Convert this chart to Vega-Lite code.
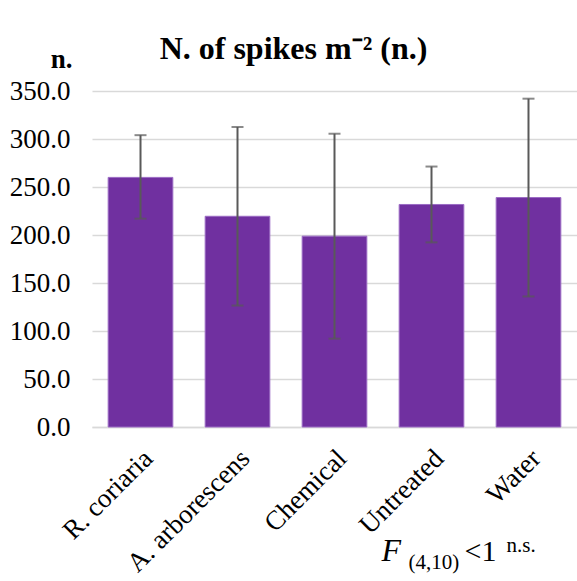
{
  "$schema": "https://vega.github.io/schema/vega-lite/v6.json",
  "width": 485,
  "height": 336,
  "autosize": "none",
  "padding": {"left": 92, "top": 91, "right": 0, "bottom": 154},
  "background": "white",
  "config": {
    "view": {"stroke": null},
    "font": "Liberation Serif",
    "axis": {"labelFont": "Liberation Serif", "titleFont": "Liberation Serif", "labelColor": "#000000", "titleColor": "#000000"}
  },
  "title": {
    "text": "N. of spikes m⁻² (n.)",
    "font": "Liberation Serif",
    "fontSize": 32,
    "fontWeight": "bold",
    "color": "#000000",
    "anchor": "middle",
    "frame": "group",
    "dx": -41,
    "baseline": "alphabetic",
    "offset": 0,
    "dy": 46
  },
  "datasets": {
    "bars": [
      {"treatment": "R. coriaria", "mean": 260.0, "low": 217.0, "high": 304.0},
      {"treatment": "A. arborescens", "mean": 219.5, "low": 126.5, "high": 312.5},
      {"treatment": "Chemical", "mean": 198.8, "low": 92.0, "high": 305.5},
      {"treatment": "Untreated", "mean": 231.8, "low": 192.3, "high": 271.3},
      {"treatment": "Water", "mean": 239.0, "low": 136.0, "high": 342.0}
    ]
  },
  "layer": [
    {
      "data": {"name": "bars"},
      "mark": {"type": "bar", "color": "#7030A0", "stroke": "#9B6BC4", "strokeWidth": 1},
      "encoding": {
        "x": {
          "field": "treatment", "type": "nominal", "sort": null,
          "scale": {"paddingInner": 0.3333, "paddingOuter": 0.1667},
          "axis": {
            "title": null, "labelAngle": -45, "labelFont": "Liberation Serif", "labelFontSize": 27,
            "labelPadding": 27, "labelOffset": 8,
            "ticks": false, "tickSize": 0, "domainColor": "#D9D9D9", "domainWidth": 1.5,
            "grid": false, "labelAlign": "right", "labelBaseline": "middle"
          }
        },
        "y": {
          "field": "mean", "type": "quantitative",
          "scale": {"domain": [0, 350], "nice": false, "zero": true},
          "axis": {
            "title": "n.", "titleFont": "Liberation Serif", "titleAngle": 0, "titleFontSize": 27, "titleFontWeight": "bold",
            "titleAlign": "right", "titleBaseline": "alphabetic", "titleX": -20, "titleY": -24,
            "values": [0, 50, 100, 150, 200, 250, 300, 350], "format": ".1f",
            "labelFont": "Liberation Serif", "labelFontSize": 27, "labelPadding": 22, "ticks": false, "tickSize": 0,
            "domain": false, "gridColor": "#D9D9D9", "gridWidth": 1.5
          }
        }
      }
    },
    {
      "data": {"name": "bars"},
      "mark": {"type": "rule", "color": "#595959", "strokeWidth": 2},
      "encoding": {
        "x": {"field": "treatment", "type": "nominal", "sort": null},
        "y": {"field": "low", "type": "quantitative"},
        "y2": {"field": "high"}
      }
    },
    {
      "data": {"name": "bars"},
      "mark": {"type": "tick", "color": "#595959", "thickness": 2, "size": 12, "orient": "horizontal"},
      "encoding": {
        "x": {"field": "treatment", "type": "nominal", "sort": null},
        "y": {"field": "low", "type": "quantitative"}
      }
    },
    {
      "data": {"name": "bars"},
      "mark": {"type": "tick", "color": "#595959", "thickness": 2, "size": 12, "orient": "horizontal"},
      "encoding": {
        "x": {"field": "treatment", "type": "nominal", "sort": null},
        "y": {"field": "high", "type": "quantitative"}
      }
    },
    {
      "data": {"values": [{"t": "F"}]},
      "mark": {"type": "text", "font": "Liberation Serif", "fontSize": 32, "fontStyle": "italic", "align": "left", "baseline": "alphabetic", "dx": -50, "color": "#000000"},
      "encoding": {
        "x": {"datum": "Untreated", "type": "nominal"},
        "y": {"datum": -139.5, "type": "quantitative"},
        "text": {"field": "t"}
      }
    },
    {
      "data": {"values": [{"t": "(4,10)"}]},
      "mark": {"type": "text", "font": "Liberation Serif", "fontSize": 21, "align": "left", "baseline": "alphabetic", "dx": -23, "color": "#000000"},
      "encoding": {
        "x": {"datum": "Untreated", "type": "nominal"},
        "y": {"datum": -147.5, "type": "quantitative"},
        "text": {"field": "t"}
      }
    },
    {
      "data": {"values": [{"t": "<1"}]},
      "mark": {"type": "text", "font": "Liberation Serif", "fontSize": 30, "align": "left", "baseline": "alphabetic", "dx": 33, "color": "#000000"},
      "encoding": {
        "x": {"datum": "Untreated", "type": "nominal"},
        "y": {"datum": -139.5, "type": "quantitative"},
        "text": {"field": "t"}
      }
    },
    {
      "data": {"values": [{"t": "n.s."}]},
      "mark": {"type": "text", "font": "Liberation Serif", "fontSize": 21, "align": "left", "baseline": "alphabetic", "dx": 75, "color": "#000000"},
      "encoding": {
        "x": {"datum": "Untreated", "type": "nominal"},
        "y": {"datum": -130, "type": "quantitative"},
        "text": {"field": "t"}
      }
    }
  ]
}
